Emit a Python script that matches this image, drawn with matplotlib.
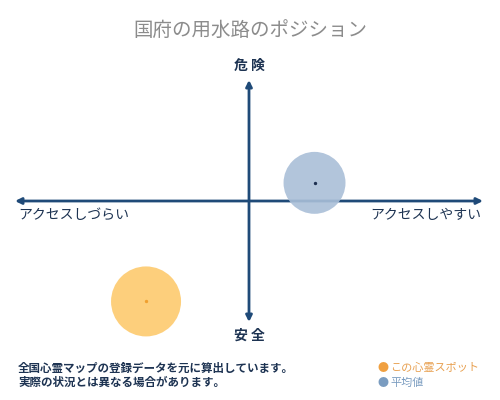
import matplotlib
matplotlib.use("Agg")
import matplotlib.pyplot as plt

plt.rcParams['font.family'] = ['Noto Sans CJK JP', 'DejaVu Sans']

# positions on the map (-100..100 on both axes)
labels = ['この心霊スポット', '平均値']
x_vals = [-44, 28]
y_vals = [-83, 15]
sizes = [2540, 1990]          # marker area (pt^2)
fills = ['#fdca6e', '#aabfd8']
dots = ['#f0a030', '#1d3050']

axis_color = '#1f4a78'
text_color = '#1d3352'

fig = plt.figure(figsize=(5, 4), dpi=100)
fig.patch.set_facecolor('white')

fig.text(0.5, 0.925, '国府の用水路のポジション', ha='center', va='center',
         fontsize=14, color='#8c8c8c')

ax = fig.add_axes([0.03, 0.195, 0.936, 0.605])
ax.set_xlim(-100, 100)
ax.set_ylim(-100, 100)
ax.axis('off')

# quadrant axes
ax.annotate('', xy=(100, 0), xytext=(-100, 0),
            arrowprops=dict(arrowstyle='<|-|>', color=axis_color, lw=2,
                            mutation_scale=9, shrinkA=0, shrinkB=0))
ax.annotate('', xy=(0, 100), xytext=(0, -100),
            arrowprops=dict(arrowstyle='<|-|>', color=axis_color, lw=2,
                            mutation_scale=9, shrinkA=0, shrinkB=0))

# circles + centre dots
for i in range(len(labels)):
    ax.scatter(x_vals[i], y_vals[i], s=sizes[i], color=fills[i], alpha=0.9,
               edgecolors='none', zorder=3, clip_on=False)
    ax.scatter(x_vals[i], y_vals[i], s=2, color=dots[i], zorder=4, clip_on=False)

# axis labels
fig.text(0.498, 0.835, '危 険', ha='center', va='center', fontsize=10,
         color=text_color, fontweight='bold')
fig.text(0.498, 0.16, '安 全', ha='center', va='center', fontsize=10,
         color=text_color, fontweight='bold')
fig.text(0.036, 0.463, 'アクセスしづらい', ha='left', va='center', fontsize=10,
         color=text_color)
fig.text(0.962, 0.463, 'アクセスしやすい', ha='right', va='center', fontsize=10,
         color=text_color)

# footer
fig.text(0.036, 0.08, '全国心霊マップの登録データを元に算出しています。',
         ha='left', va='center', fontsize=8.3, color=text_color, fontweight='bold')
fig.text(0.036, 0.043, '実際の状況とは異なる場合があります。',
         ha='left', va='center', fontsize=8.3, color=text_color, fontweight='bold')

# legend
fig.text(0.766, 0.08, '●', ha='center', va='center', fontsize=8, color='#f0a040')
fig.text(0.78, 0.08, labels[0], ha='left', va='center', fontsize=8, color='#e8a050')
fig.text(0.766, 0.043, '●', ha='center', va='center', fontsize=8, color='#7a9cc0')
fig.text(0.78, 0.043, labels[1], ha='left', va='center', fontsize=8, color='#7a9cc0')

fig.savefig('out.png', dpi=100, facecolor='white')
